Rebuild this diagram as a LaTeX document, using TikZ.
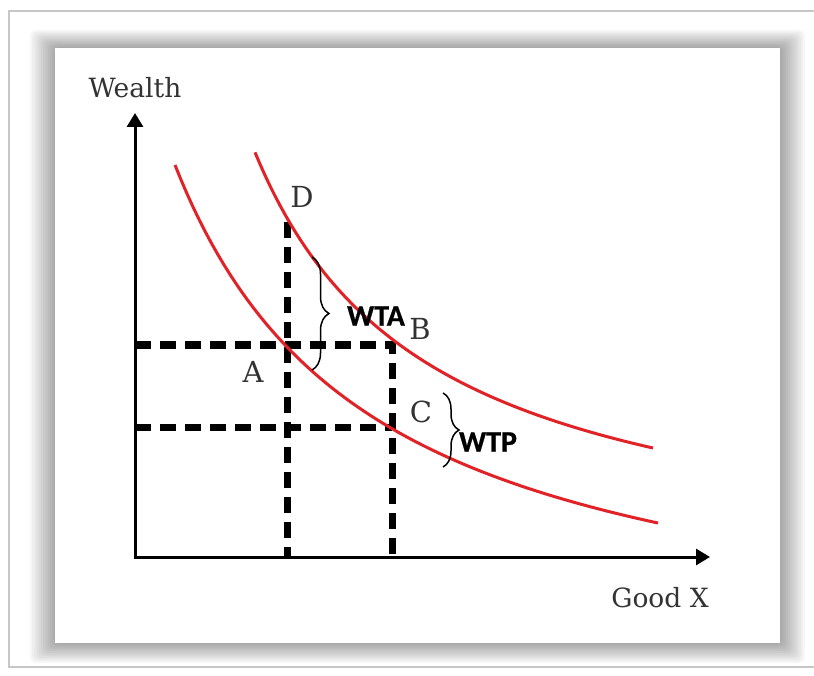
\documentclass[tikz,border=0pt]{standalone}
\usepackage{fontspec}
\setmainfont{DejaVu Serif}
\newfontfamily\calfont{Carlito}[BoldFeatures={FakeBold=0.6}]
\usetikzlibrary{arrows.meta,decorations.pathreplacing}
\definecolor{curvered}{RGB}{225,35,40}
\begin{document}
\begin{tikzpicture}[x=1pt,y=-1pt,
  axis/.style={line width=3pt,{Triangle[width=16pt,length=14pt]}-{Triangle[width=16pt,length=14pt]}},
  guide/.style={line width=7pt,dash pattern=on 16pt off 9pt},
  curve/.style={curvered,line width=3pt},
  ptlabel/.style={text=black!80,font=\fontsize{29}{32}\selectfont,inner sep=0pt},
  axlabel/.style={text=black!80,font=\fontsize{26.5}{30}\selectfont,inner sep=0pt},
  brlabel/.style={font=\calfont\bfseries\fontsize{30}{32}\selectfont,inner sep=0pt},
  bracestyle/.style={decorate,line width=1.5pt},
  framestyle/.style={draw=black!22,line width=1.2pt}
]
\clip (0,0) rectangle (814,676);
\fill[white] (0,0) rectangle (814,676);
% outer frame
\draw[framestyle] (9,11) rectangle (830,667);
% shadow
\foreach \i in {0,...,11}
  \fill[black,opacity=0.03,rounded corners=5pt] ({30+\i*2.2},{30+\i*1.55}) rectangle ({805-\i*2.1},{663-\i*1.7});
% panel
\fill[white] (55,48) rectangle (780,643);

% axes
\coordinate (O) at (135,557);
\coordinate (Ytip) at (135,113);
\coordinate (Xtip) at (710,557);
\draw[axis] (Ytip) -- (O) -- (Xtip);
\node[axlabel] (wealth) at (135,88) {Wealth};
\node[axlabel] (goodx) at (660,598) {Good X};

% key points
\coordinate (D) at (287,222);
\coordinate (A) at (287,345);
\coordinate (B) at (392,345);
\coordinate (C) at (392,427);
\coordinate (Dfoot) at (287,557);
\coordinate (Bfoot) at (392,557);
\coordinate (Aaxis) at (135,345);
\coordinate (Caxis) at (135,427);

% dashed guides
\draw[guide] (D) -- (Dfoot);
\draw[guide] (Aaxis) -- (B) -- (Bfoot);
\draw[guide] (Caxis) -- (C);

% indifference curves
\draw[curve] plot[domain=120:518,samples=80] ({\x+135},{578.54-748.84/((\x+55.7)/100)});
\draw[curve] plot[domain=40:523,samples=80] ({\x+135},{670.6-1006.65/((\x+159.1)/100)});

% point labels
\node[ptlabel] (Dl) at (302,197) {D};
\node[ptlabel] (Al) at (253,372) {A};
\node[ptlabel] (Bl) at (420,329) {B};
\node[ptlabel] (Cl) at (421,412) {C};

% braces
\coordinate (wtaTop) at (312,257);
\coordinate (wtaBot) at (312,370);
\coordinate (wtpTop) at (443,393);
\coordinate (wtpBot) at (443,467);
\draw[bracestyle,decoration={brace,amplitude=17pt}] (wtaTop) -- (wtaBot);
\draw[bracestyle,decoration={brace,amplitude=16pt}] (wtpTop) -- (wtpBot);
\node[brlabel] (wta) at (376,316) {WTA};
\node[brlabel] (wtp) at (488,442) {WTP};
\end{tikzpicture}
\end{document}
